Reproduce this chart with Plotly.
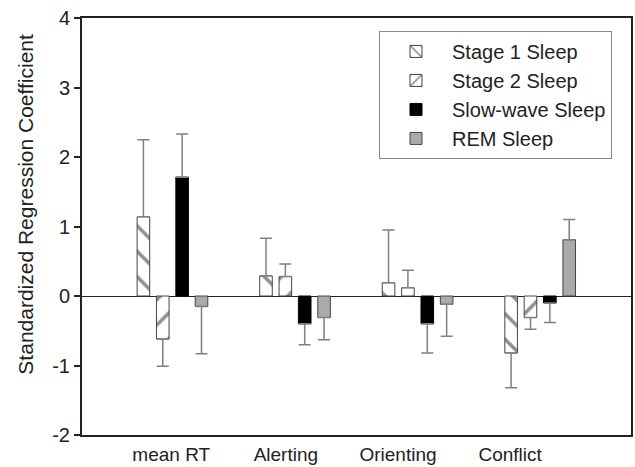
import plotly.graph_objects as go

categories = ["mean RT", "Alerting", "Orienting", "Conflict"]
series_names = ["Stage 1 Sleep", "Stage 2 Sleep", "Slow-wave Sleep", "REM Sleep"]

stage1 = [1.14, 0.29, 0.19, -0.82]
stage2 = [-0.62, 0.28, 0.12, -0.31]
sws = [1.71, -0.40, -0.40, -0.10]
rem = [-0.15, -0.31, -0.12, 0.81]

stage1_err = [1.11, 0.54, 0.76, 0.50]
stage2_err = [0.39, 0.18, 0.25, 0.17]
sws_err = [0.62, 0.30, 0.42, 0.28]
rem_err = [0.68, 0.32, 0.46, 0.29]

y_ticks = [-2, -1, 0, 1, 2, 3, 4]
y_tick_labels = ["-2", "-1", "0", "1", "2", "3", "4"]
y_title = "Standardized Regression Coefficient"

FONT = "Liberation Sans, Arial, sans-serif"
TXT = "#222222"

styles = [
    dict(color="white", line=dict(color="#444444", width=1),
         pattern=dict(shape="\\", fgcolor="#222222", bgcolor="white", size=18, solidity=0.2)),
    dict(color="white", line=dict(color="#444444", width=1),
         pattern=dict(shape="/", fgcolor="#222222", bgcolor="white", size=18, solidity=0.2)),
    dict(color="black", line=dict(color="black", width=1)),
    dict(color="#aaaaaa", line=dict(color="#444444", width=1)),
]

xpos = list(range(len(categories)))
fig = go.Figure()
for name, vals, errs, st in zip(series_names, [stage1, stage2, sws, rem],
                                [stage1_err, stage2_err, sws_err, rem_err], styles):
    up = [e if v > 0 else 0 for v, e in zip(vals, errs)]
    down = [e if v < 0 else 0 for v, e in zip(vals, errs)]
    fig.add_trace(go.Bar(
        x=xpos, y=vals, name=name, marker=st,
        error_y=dict(type="data", symmetric=False, array=up, arrayminus=down,
                     color="#808080", thickness=1.5, width=6),
    ))

fig.update_layout(
    width=635, height=467,
    margin=dict(l=82, r=2, t=18, b=31),
    paper_bgcolor="white", plot_bgcolor="white",
    barmode="group", bargap=0.368, bargroupgap=0.35,
    font=dict(family=FONT, size=19, color=TXT),
    showlegend=True,
    legend=dict(x=0.541, y=0.969, xanchor="left", yanchor="top",
                bordercolor="#888888", borderwidth=1, bgcolor="white",
                font=dict(size=20, color=TXT), itemwidth=62,
                tracegroupgap=0),
    annotations=[dict(text=y_title, textangle=-90, xref="paper", yref="paper",
                      x=-0.1034, y=0.553, xanchor="center", yanchor="middle",
                      showarrow=False, font=dict(size=21, color=TXT))],
)
fig.update_xaxes(
    range=[-0.738, 3.741], tickmode="array",
    tickvals=[-0.01, 0.925, 1.84, 2.755], ticktext=categories,
    showline=True, linecolor="#222222", linewidth=2, mirror=True,
    ticks="", showgrid=False, zeroline=False,
    tickfont=dict(size=19, color=TXT), ticklabelstandoff=1,
)
fig.update_yaxes(
    range=[-2, 4], tickmode="array", tickvals=y_ticks, ticktext=y_tick_labels,
    showline=True, linecolor="#222222", linewidth=2, mirror=True,
    ticks="outside", ticklen=6, tickwidth=1.5, tickcolor="#222222",
    showgrid=False, zeroline=True, zerolinecolor="#222222", zerolinewidth=1,
    tickfont=dict(size=20, color=TXT),
)

fig.write_html("out.html", config={"displayModeBar": False},
               post_script="document.body.style.margin='0';")
